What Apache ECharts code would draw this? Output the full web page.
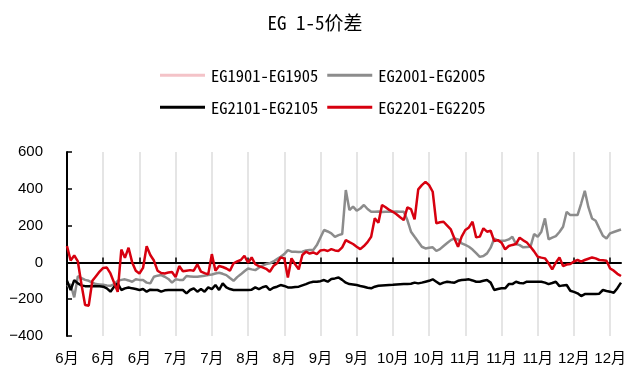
<!DOCTYPE html>
<html>
<head>
<meta charset="utf-8">
<script src="https://cdn.jsdelivr.net/npm/echarts@6/dist/echarts.min.js"></script>
<style>
  html, body { margin: 0; padding: 0; background: #fff; }
  #chart { width: 630px; height: 367px; }
</style>
</head>
<body>
<div id="chart"></div>
<script>
// Month tick labels, one every ten trading days
const tickLabels = ['6月', '6月', '6月', '7月', '7月', '8月', '8月', '9月', '9月',
  '10月', '10月', '11月', '11月', '11月', '12月', '12月'];

// EG1901-EG1905 (no data in this window)
const eg1901 = [];

// EG2001-EG2005
const eg2001 = [
  -130, -120, -190, -75, -85, -95, -100, -110, -118, -120,
  -122, -125, -127, -118, -100, -95, -92, -98, -105, -92,
  -95, -96, -110, -114, -78, -72, -69, -78, -90, -110,
  -92, -95, -96, -74, -76, -78, -78, -75, -72, -69,
  -66, -60, -56, -62, -69, -85, -100, -80, -65, -48,
  -33, -38, -42, -29, -18, -9, -5, 5, 18, 31,
  45, 67, 58, 58, 57, 58, 65, 67, 67, 94,
  135, 176, 168, 158, 139, 148, 154, 393, 284, 303,
  281, 293, 312, 290, 275, 275, 276, 274, 275, 275,
  275, 276, 275, 275, 230, 167, 139, 112, 85, 76,
  80, 82, 62, 72, 89, 105, 121, 130, 125, 103,
  95, 85, 70, 50, 30, 35, 49, 80, 130, 118,
  118, 118, 125, 139, 100, 94, 82, 84, 85, 154,
  139, 167, 239, 125, 135, 143, 165, 194, 275, 257,
  257, 257, 320, 389, 300, 239, 226, 185, 145, 130,
  158, 165, 172, 179
];

// EG2101-EG2105
const eg2101 = [
  -100, -150, -96, -114, -125, -129, -130, -128, -129, -130,
  -132, -141, -159, -132, -114, -150, -141, -136, -141, -145,
  -150, -145, -159, -148, -150, -150, -159, -152, -150, -150,
  -150, -150, -150, -168, -150, -141, -159, -145, -159, -136,
  -145, -123, -150, -114, -136, -145, -150, -150, -150, -150,
  -150, -148, -136, -145, -135, -129, -150, -138, -132, -123,
  -128, -136, -136, -134, -132, -125, -118, -110, -105, -105,
  -102, -96, -105, -90, -87, -82, -95, -110, -118, -120,
  -123, -128, -132, -138, -141, -132, -127, -125, -124, -123,
  -122, -120, -119, -118, -117, -116, -110, -114, -110, -105,
  -100, -92, -105, -118, -110, -105, -108, -110, -100, -96,
  -94, -92, -98, -105, -105, -100, -96, -110, -150, -145,
  -141, -141, -118, -118, -105, -112, -114, -105, -105, -105,
  -105, -105, -110, -118, -112, -105, -129, -125, -123, -154,
  -160, -168, -183, -172, -172, -172, -172, -170, -150, -155,
  -159, -165, -140, -110
];

// EG2201-EG2205
const eg2201 = [
  89, 10, 38, 5, -120, -232, -235, -100, -75, -50,
  -30, -28, -60, -110, -160, 70, 25, 80, 0, -45,
  -60, -30, 88, 40, 10, -45, -58, -60, -55, -52,
  -80, -20, -48, -45, -42, -45, -10, -50, -58, -65,
  45, -45, -20, -25, -33, -45, -5, 5, 13, 36,
  -2, 27, -10, -20, -27, -35, -51, -20, -5, 27,
  22, -82, 22, -10, -38, 40, 58, 48, 54, 45,
  65, 68, 62, 72, 65, 62, 82, 121, 110, 100,
  85, 72, 89, 110, 139, 240, 215, 312, 300, 285,
  275, 262, 245, 230, 299, 290, 234, 397, 420, 438,
  420, 384, 212, 218, 221, 200, 179, 130, 85, 140,
  176, 190, 221, 136, 140, 185, 167, 172, 116, 121,
  107, 71, 89, 95, 100, 134, 120, 108, 85, 60,
  31, 26, 22, -5, -38, -2, 27, -20, -12, -9,
  5, 13, 4, 13, 20, 27, 22, 13, 12, 9,
  -33, -45, -62, -74
];

const seriesNames = ['EG1901-EG1905', 'EG2001-EG2005', 'EG2101-EG2105', 'EG2201-EG2205'];
const seriesColors = ['#f4c3c8', '#8c8c8c', '#000000', '#d7000f'];
const seriesData = [eg1901, eg2001, eg2101, eg2201];

// Trading-day index along the x axis
const dayIndex = eg2001.map((_, i) => String(i));

const chart = echarts.init(document.getElementById('chart'), null, { renderer: 'canvas' });

const monoFont = "'Noto Sans Mono CJK SC', 'DejaVu Sans Mono', monospace";
const axisFont = "'Liberation Sans', 'Noto Sans CJK SC', sans-serif";

const legendBase = {
  itemWidth: 45,
  itemHeight: 3,
  itemGap: 9,
  icon: 'rect',
  textStyle: { fontFamily: monoFont, fontSize: 16.5, color: '#000', padding: [0, 0, 0, 1] },
  left: 155
};

chart.setOption({
  animation: false,
  backgroundColor: '#fff',
  title: {
    text: 'EG 1-5价差',
    left: 'center',
    top: 8,
    textStyle: { fontFamily: monoFont, fontSize: 19, fontWeight: 'normal', color: '#000' }
  },
  legend: [
    Object.assign({}, legendBase, { top: 62, data: [seriesNames[0], seriesNames[1]] }),
    Object.assign({}, legendBase, { top: 94, data: [seriesNames[2], seriesNames[3]] })
  ],
  grid: { left: 67, right: 9, top: 152, bottom: 31 },
  xAxis: [
    {
      type: 'category',
      data: dayIndex,
      boundaryGap: false,
      axisLine: { show: false, onZero: false },
      axisTick: { show: false },
      axisLabel: {
        interval: 9,
        margin: 15,
        fontSize: 15,
        fontFamily: axisFont,
        color: '#000',
        formatter: (v, idx) => tickLabels[Math.round(idx / 10)] || ''
      },
      splitLine: { show: true, interval: 9, lineStyle: { color: '#dcdcdc', width: 1.5 } }
    },
    {
      type: 'category',
      data: dayIndex,
      boundaryGap: false,
      position: 'bottom',
      axisLine: { show: true, onZero: true, onZeroAxisIndex: 0, lineStyle: { color: '#000', width: 2 } },
      axisTick: { show: true, inside: true, interval: 9, length: 5, lineStyle: { color: '#000', width: 1.5 } },
      axisLabel: { show: false },
      splitLine: { show: false }
    }
  ],
  yAxis: {
    type: 'value',
    min: -400,
    max: 600,
    interval: 200,
    axisLine: { show: true, lineStyle: { color: '#000', width: 2 } },
    axisTick: { show: true, inside: true, length: 5, lineStyle: { color: '#000', width: 1.5 } },
    axisLabel: {
      margin: 24,
      fontSize: 15,
      fontFamily: axisFont,
      color: '#000',
      formatter: v => String(v).replace('-', '−')
    },
    splitLine: { show: false }
  },
  series: seriesNames.map((name, k) => ({
    name: name,
    type: 'line',
    xAxisIndex: 0,
    data: seriesData[k],
    showSymbol: false,
    symbol: 'none',
    color: seriesColors[k],
    lineStyle: { width: 2.5, color: seriesColors[k] },
    emphasis: { disabled: true }
  }))
});
</script>
</body>
</html>
